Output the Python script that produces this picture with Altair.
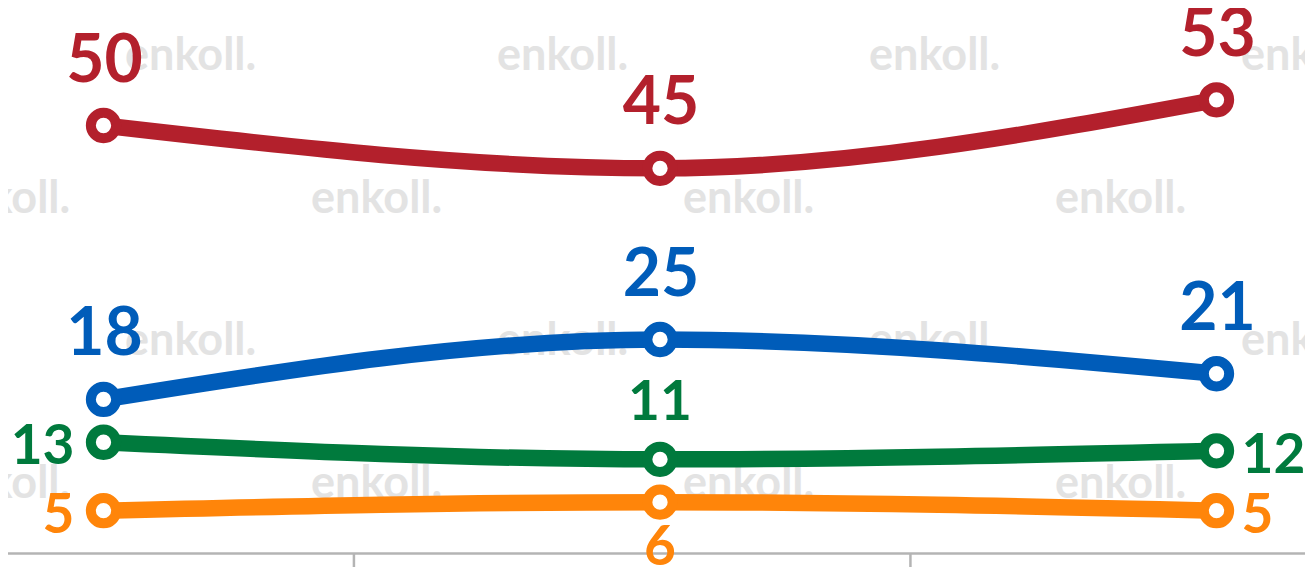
import altair as alt
import pandas as pd

# ---- data ----
periods = [0, 1, 2]
series_names = ["A", "B", "C", "D"]
values_a = [50, 45, 53]
values_b = [18, 25, 21]
values_c = [13, 11, 12]
values_d = [5, 6, 5]
tick_positions = [0.45, 1.45]

colors = ["#B3202C", "#005CB9", "#007A3D", "#FF850A"]

# label placement per point (style, not data)
placements = {
    "A": ["above", "above", "above"],
    "B": ["above", "above", "above"],
    "C": ["left", "above_s", "right"],
    "D": ["left", "below", "right"],
}

rows = []
for name, vals in zip(series_names, [values_a, values_b, values_c, values_d]):
    for i, (p, v) in enumerate(zip(periods, vals)):
        rows.append({"series": name, "period": p, "value": v,
                     "place": placements[name][i]})
df = pd.DataFrame(rows)

W, H = 1297, 559
xscale = alt.Scale(domain=[-0.1716, 2.159], nice=False, zero=False)
yscale = alt.Scale(domain=[-1.577, 63.73], nice=False, zero=False)
cscale = alt.Scale(domain=series_names, range=colors)

X = alt.X("period:Q", scale=xscale, axis=None)
Y = alt.Y("value:Q", scale=yscale, axis=None)

# watermark tiles
wm = []
for yy, xs in [(62, [117, 489, 861, 1233]), (205, [-69, 303, 675, 1047]),
               (347, [117, 489, 861, 1233]), (490, [-69, 303, 675, 1047])]:
    for xx in xs:
        wm.append({"px": xx, "py": yy, "t": "enkoll."})
wm_df = pd.DataFrame(wm)

watermark = alt.Chart(wm_df).mark_text(
    align="left", baseline="alphabetic", font="Lato", fontWeight="bold",
    fontSize=45, color="#e3e3e3"
).encode(x=alt.X("px:Q", scale=None), y=alt.Y("py:Q", scale=None), text="t:N")

base = alt.Chart(df)

axis_line = alt.Chart(pd.DataFrame({"y": [0]})).mark_rule(
    color="#b4b4b4", strokeWidth=2.5
).encode(y=alt.Y("y:Q", scale=yscale, axis=None), x=alt.value(0), x2=alt.value(W))

ticks = alt.Chart(pd.DataFrame({"t": tick_positions, "y0": [0, 0], "y1": [-1.577, -1.577]})).mark_rule(
    color="#b4b4b4", strokeWidth=2.5
).encode(x=alt.X("t:Q", scale=xscale, axis=None),
         y=alt.Y("y0:Q", scale=yscale, axis=None), y2="y1:Q")

lines = base.mark_line(interpolate="monotone", strokeWidth=16.5).encode(
    x=X, y=Y, color=alt.Color("series:N", scale=cscale, legend=None),
    detail="series:N"
)

points = base.mark_point(shape="circle", filled=True, fill="white", strokeWidth=10,
                         size=640, opacity=1).encode(
    x=X, y=Y, stroke=alt.Stroke("series:N", scale=cscale, legend=None)
)

def label_layer(place, size, align, dx, dy):
    return base.transform_filter(alt.datum.place == place).mark_text(
        font="Lato", fontWeight="bold", fontSize=size, align=align,
        baseline="middle", dx=dx, dy=dy
    ).encode(x=X, y=Y, text="value:Q",
             color=alt.Color("series:N", scale=cscale, legend=None))

labels = alt.layer(
    label_layer("above", 66, "center", 1, -64),
    label_layer("above_s", 55, "center", 0, -56),
    label_layer("left", 55, "right", -29, 5),
    label_layer("right", 55, "left", 25, 5),
    label_layer("below", 55, "center", 0, 46),
)

chart = alt.layer(watermark, axis_line, ticks, lines, points, labels).properties(
    width=W, height=H, padding=0, autosize=alt.AutoSizeParams(type="none")
).configure_view(strokeWidth=0)

chart.save("out.html", embed_options={"renderer": "svg", "actions": False})
